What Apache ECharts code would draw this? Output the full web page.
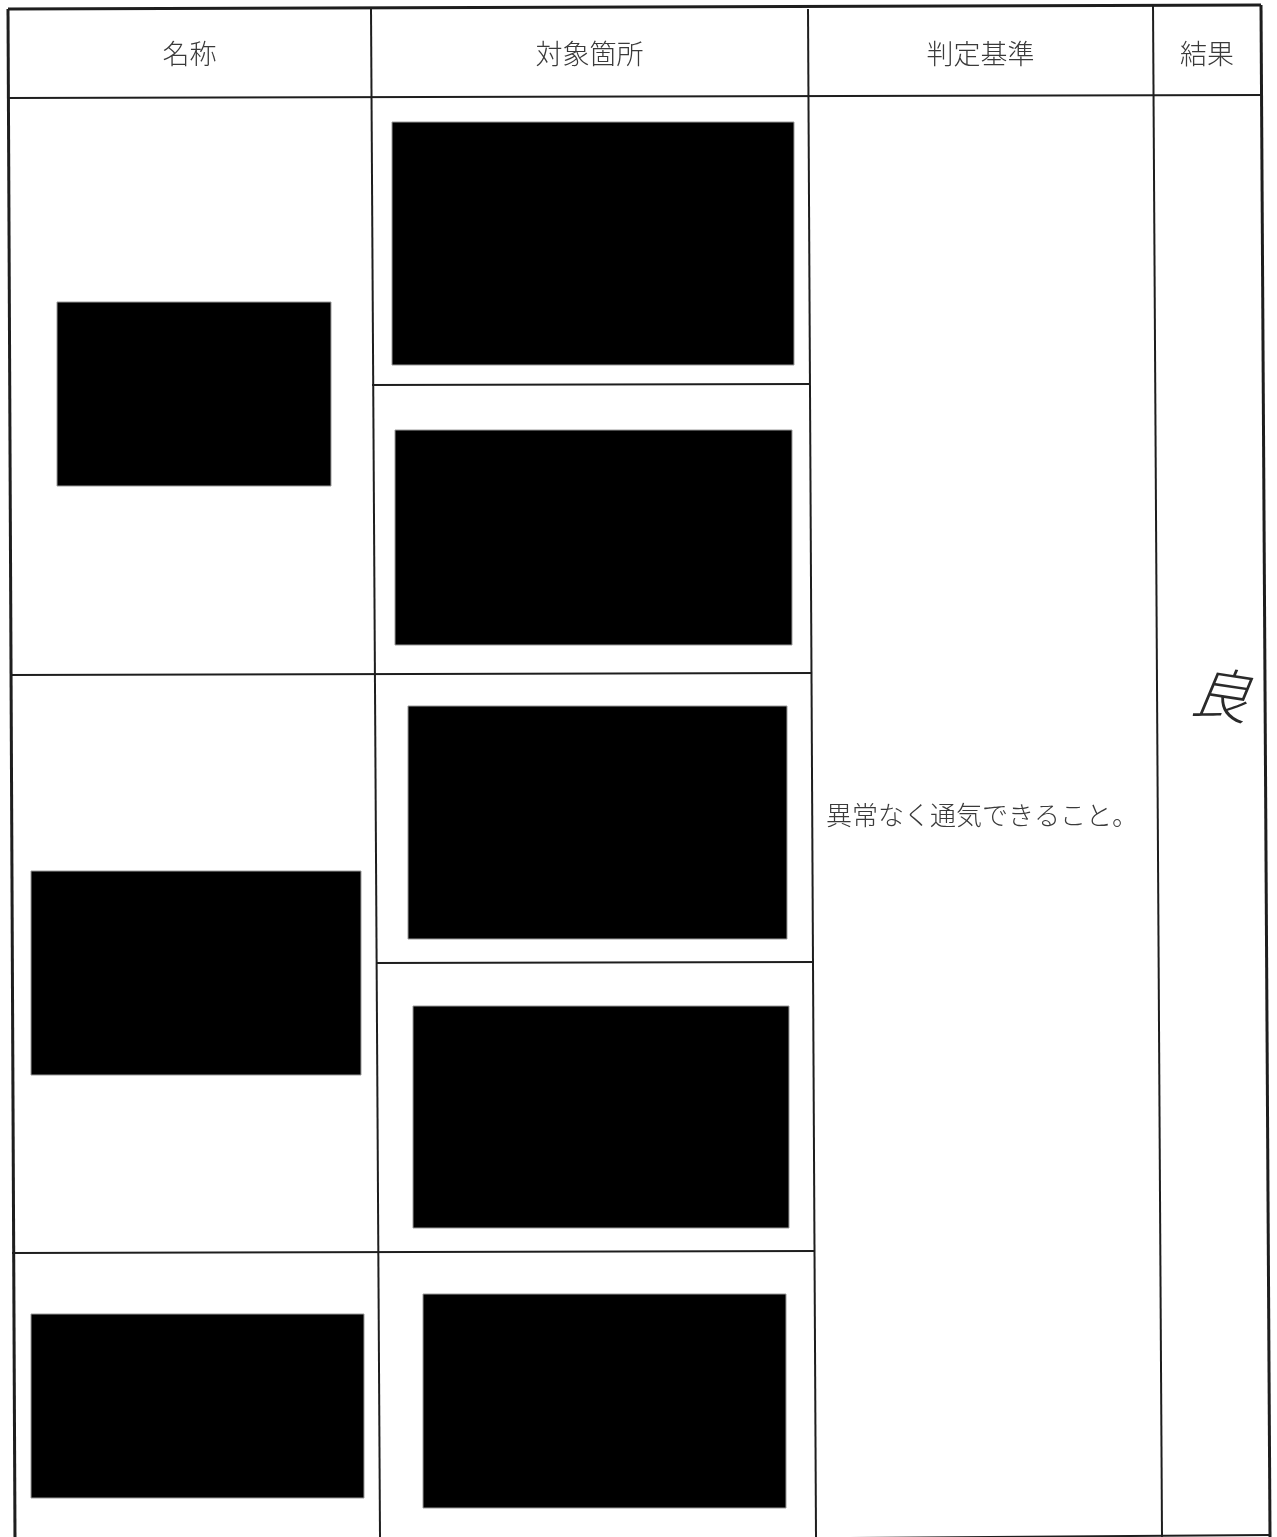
<!DOCTYPE html>
<html>
<head>
<meta charset="utf-8">
<script src="https://cdn.jsdelivr.net/npm/echarts@6/dist/echarts.min.js"></script>
<style>
html,body{margin:0;padding:0;background:#fff;}
#chart{width:1277px;height:1537px;}
</style>
</head>
<body>
<div id="chart"></div>
<script>
// ---- data ----
// column boundaries at top edge and bottom edge of the (slightly skewed) scan
const colEdgesTop = [8, 371, 808, 1153, 1261];
const colEdgesBottom = [15, 380, 816, 1162, 1270];
const tableTopY = [9, 5];          // y at left / right
const headerBottomY = [98, 95];   // y at left / right
// horizontal rules: [xStart, yStart, xEnd, yEnd]
const rowRules = [
  [372, 385, 810, 384],
  [10, 675, 812, 673],
  [376, 963, 813, 962],
  [12, 1253, 815, 1251],
  [850, 1538, 1270, 1535]
];
// redacted (blacked-out) blocks: [x0, y0, x1, y1]
const redactions = [
  [392, 122, 794, 365],
  [57, 302, 331, 486],
  [395, 430, 792, 645],
  [408, 706, 787, 939],
  [31, 871, 361, 1075],
  [413, 1006, 789, 1228],
  [423, 1294, 786, 1508],
  [31, 1314, 364, 1498]
];
const headerLabels = ['名称', '対象箇所', '判定基準', '結果'];
const criterionText = '異常なく通気できること。';
const resultText = '良';

// ---- build ----
const W = 1277, H = 1537;
const lineSegs = [];
// vertical rules
colEdgesTop.forEach((xt, i) => {
  const outer = (i === 0 || i === colEdgesTop.length - 1);
  lineSegs.push([xt, i >= 3 ? tableTopY[1] : tableTopY[0], colEdgesBottom[i], H, outer ? 3 : 2]);
});
lineSegs.push([colEdgesTop[0], tableTopY[0], colEdgesTop[4], tableTopY[1], 3]);
lineSegs.push([colEdgesTop[0], headerBottomY[0], colEdgesTop[4], headerBottomY[1], 2]);
rowRules.forEach(r => lineSegs.push([r[0], r[1], r[2], r[3], 2]));

const headerItems = headerLabels.map((t, i) => [
  (colEdgesTop[i] + colEdgesTop[i + 1]) / 2,
  (tableTopY[0] + headerBottomY[0]) / 2,
  t
]);

const FONT = '"Noto Sans CJK JP", "Noto Sans CJK SC", sans-serif';

const chart = echarts.init(document.getElementById('chart'), null, {renderer: 'canvas'});
chart.setOption({
  backgroundColor: '#ffffff',
  animation: false,
  grid: {left: 0, right: 0, top: 0, bottom: 0},
  xAxis: {type: 'value', min: 0, max: W, show: false},
  yAxis: {type: 'value', min: 0, max: H, inverse: true, show: false},
  series: [
    {
      type: 'custom',
      data: redactions,
      renderItem: function (params, api) {
        const p0 = api.coord([api.value(0), api.value(1)]);
        const p1 = api.coord([api.value(2), api.value(3)]);
        return {
          type: 'rect',
          shape: {x: p0[0], y: p0[1], width: p1[0] - p0[0], height: p1[1] - p0[1]},
          style: {fill: '#000000', stroke: '#9a9a9a', lineWidth: 1}
        };
      }
    },
    {
      type: 'custom',
      data: lineSegs,
      renderItem: function (params, api) {
        const p0 = api.coord([api.value(0), api.value(1)]);
        const p1 = api.coord([api.value(2), api.value(3)]);
        return {
          type: 'line',
          shape: {x1: p0[0], y1: p0[1], x2: p1[0], y2: p1[1]},
          style: {stroke: '#1e1e1e', lineWidth: api.value(4)}
        };
      }
    },
    {
      type: 'custom',
      data: headerItems,
      renderItem: function (params, api) {
        const p = api.coord([api.value(0), api.value(1)]);
        return {
          type: 'text',
          x: p[0], y: p[1],
          style: {
            text: headerItems[params.dataIndex][2],
            fill: '#3a3a3a',
            font: '300 27px ' + FONT,
            align: 'center',
            verticalAlign: 'middle'
          }
        };
      }
    },
    {
      type: 'custom',
      data: [[colEdgesTop[2] + 18, 815]],
      renderItem: function (params, api) {
        const p = api.coord([api.value(0), api.value(1)]);
        return {
          type: 'text',
          x: p[0], y: p[1],
          style: {
            text: criterionText,
            fill: '#3a3a3a',
            font: '300 26px ' + FONT,
            align: 'left',
            verticalAlign: 'middle'
          }
        };
      }
    },
    {
      type: 'custom',
      data: [[(colEdgesTop[3] + colEdgesTop[4]) / 2 + 14, 694]],
      renderItem: function (params, api) {
        const p = api.coord([api.value(0), api.value(1)]);
        return {
          type: 'text',
          x: p[0], y: p[1],
          rotation: -0.15,
          style: {
            text: resultText,
            fill: '#2a2a2a',
            font: 'italic 200 58px ' + FONT,
            align: 'center',
            verticalAlign: 'middle'
          }
        };
      }
    }
  ]
});
</script>
</body>
</html>
